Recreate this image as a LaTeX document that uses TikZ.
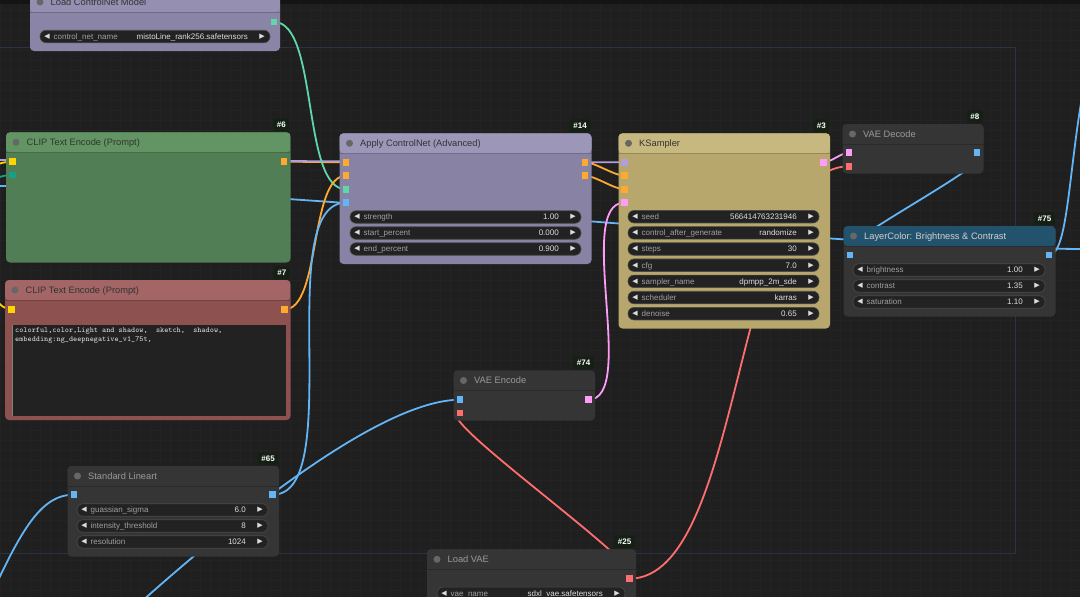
\documentclass[tikz,border=0pt]{standalone}
\usepackage{fontspec}
\setmainfont{Liberation Sans}
\newfontfamily\symf{DejaVu Sans}
\definecolor{bg}{HTML}{1F1F1F}
\definecolor{gridc}{HTML}{232323}
\definecolor{grp}{HTML}{2A3344}
\definecolor{topc}{HTML}{141414}
\definecolor{cmodel}{HTML}{B39DDB}
\definecolor{cclip}{HTML}{FFD500}
\definecolor{ccond}{HTML}{FFA931}
\definecolor{ccn}{HTML}{5FD7A8}
\definecolor{cimg}{HTML}{64B5F6}
\definecolor{clat}{HTML}{FF9CF9}
\definecolor{cvae}{HTML}{FF6E6E}
\definecolor{cteal}{HTML}{16A085}
\definecolor{lcnT}{HTML}{958FB2}
\definecolor{lcnB}{HTML}{8A84A7}
\definecolor{acnT}{HTML}{9C96B8}
\definecolor{acnB}{HTML}{8882A5}
\definecolor{c6T}{HTML}{629563}
\definecolor{c6B}{HTML}{517E54}
\definecolor{c7T}{HTML}{A36565}
\definecolor{c7B}{HTML}{8D5150}
\definecolor{ksT}{HTML}{C6B87E}
\definecolor{ksB}{HTML}{B7A76D}
\definecolor{darkT}{HTML}{353535}
\definecolor{darkB}{HTML}{353535}
\definecolor{lcT}{HTML}{23526D}
\definecolor{ttlDark}{HTML}{333333}
\definecolor{ttlGrey}{HTML}{9A9A9A}
\definecolor{ttlLight}{HTML}{D0D0D0}
\definecolor{dotc}{HTML}{676767}
\definecolor{badgebg}{HTML}{142014}
\definecolor{pillbg}{HTML}{222222}
\definecolor{pilledge}{HTML}{4A4A4A}
\definecolor{wlabc}{HTML}{A0A0A0}
\definecolor{wvalc}{HTML}{DDDDDD}
\definecolor{areabg}{HTML}{222222}
\tikzset{
 box/.style={rounded corners=4pt, inner sep=0pt, outer sep=0pt, draw=none},
 slotsq/.style={rectangle, minimum size=6.5pt, inner sep=0pt, draw=none},
 wire/.style={line width=1.8pt},
 ttl/.style={font=\fontsize{9.3}{10}\selectfont, inner sep=0pt, anchor=base west},
 badge/.style={fill=badgebg, text=white, font=\fontsize{8}{8}\selectfont\bfseries, rounded corners=1.5pt, inner xsep=3.5pt, inner ysep=0pt, minimum height=12.5pt, anchor=south east},
 pill/.style={fill=pillbg, draw=pilledge, line width=.6pt, rounded corners=6pt, minimum height=12.5pt, inner sep=0pt},
 wlab/.style={font=\fontsize{8}{9}\selectfont, text=wlabc, inner sep=0pt, anchor=base west},
 wval/.style={font=\fontsize{8}{9}\selectfont, text=wvalc, inner sep=0pt, anchor=base east},
 warr/.style={font=\symf\fontsize{7}{8}\selectfont, text=wvalc, inner sep=0pt},
}
\newcommand\cbox[9]{%
 \node[box, fill=#7, minimum width={#4-#2}, minimum height={#5-#3}, anchor=north west,
   path picture={\fill[#6] (path picture bounding box.north west) rectangle ([yshift=-20pt]path picture bounding box.north east);
   \draw[black, opacity=.2, line width=.8pt] ([yshift=-20pt]path picture bounding box.north west) -- ([yshift=-20pt]path picture bounding box.north east);}] (#1) at (#2,#3) {};
 \node[circle, fill=dotc, minimum size=7pt, inner sep=0pt] (#1-dot) at (#2+10,#3+10) {};
 \node[ttl, text=#9] (#1-title) at (#2+20.5,#3+13.4) {#8};
}
\newcommand\cbadge[4]{\node[badge] (#1) at (#2,#3) {\##4};}
\newcommand\wdg[6]{%
 \node[pill, minimum width={#3-#2}] (#1) at ({(#2+#3)/2},#4) {};
 \node[warr] (#1-a) at (#2+7,#4) {◀};
 \node[wlab] (#1-l) at (#2+13.5,#4+2.9) {#5};
 \node[wval] (#1-v) at (#3-22,#4+2.9) {#6};
 \node[warr] (#1-b) at (#3-8,#4) {▶};
}
\newcommand\putslot[2]{\node[slotsq, fill=#2] (#1-sq) at (#1) {};}
\begin{document}
\begin{tikzpicture}[x=1pt,y=-1pt]
\useasboundingbox (0,0) rectangle (1080,597);
% background and grid
\fill[bg] (0,0) rectangle (1080,597);
\foreach \i in {0,10,...,1080} \draw[gridc, line width=.5pt] (\i,0) -- (\i,597);
\foreach \j in {0,10,...,590} \draw[gridc, line width=.5pt] (0,\j) -- (1080,\j);
\fill[topc] (0,0) rectangle (1080,4);
% group frame
\draw[grp, line width=1pt] (-5,47) -- (1015,47) -- (1015,553) -- (-5,553);
% slot coordinates
\coordinate (lcn-out) at (274,22);
\coordinate (c6-clip) at (12.7,161.7);
\coordinate (c6-txt) at (12.7,175);
\coordinate (c6-out) at (284,161.7);
\coordinate (c7-clip) at (11.5,309.5);
\coordinate (c7-out) at (284.3,309.5);
\coordinate (acn-pos) at (346,162.3);
\coordinate (acn-neg) at (346,175.7);
\coordinate (acn-cn) at (346,189.3);
\coordinate (acn-img) at (346,202.7);
\coordinate (acn-o1) at (585,162.3);
\coordinate (acn-o2) at (585,175.7);
\coordinate (ks-model) at (624.3,162.3);
\coordinate (ks-pos) at (624.3,175.7);
\coordinate (ks-neg) at (624.3,189.3);
\coordinate (ks-lat) at (624.3,202.7);
\coordinate (ks-out) at (823.3,162.3);
\coordinate (vd-lat) at (849,152.7);
\coordinate (vd-vae) at (849,166.3);
\coordinate (vd-out) at (977,152.7);
\coordinate (lc-in) at (850,255);
\coordinate (lc-out) at (1049,255);
\coordinate (ve-px) at (460,399.7);
\coordinate (ve-vae) at (460,413);
\coordinate (ve-out) at (588.3,399.7);
\coordinate (la-in) at (74,494.7);
\coordinate (la-out) at (272.7,494.7);
\coordinate (lv-out) at (629.3,578.7);
% free ends off the picture
\coordinate (fe-model) at (-10,160);
\coordinate (fe-clipA) at (-60,205);
\coordinate (fe-txt) at (-60,222);
\coordinate (fe-clipB) at (-50,240);
\coordinate (fe-longL) at (-10,186);
\coordinate (fe-longR) at (1090,249);
\coordinate (fe-img1) at (-20,620);
\coordinate (fe-img2) at (110,630);
\coordinate (fe-out) at (1095,40);
% wires
\draw[wire, cclip] (fe-clipA) .. controls +(40,0) and +(-40,0) .. (c6-clip);
\draw[wire, cteal] (fe-txt) .. controls +(40,0) and +(-40,0) .. (c6-txt);
\draw[wire, cclip] (fe-clipB) .. controls +(25,0) and +(-25,0) .. (c7-clip);
\draw[wire, cimg] (fe-longL) .. controls +(275,0) and +(-275,0) .. (fe-longR);
\draw[wire, ccond] (c6-out) .. controls +(15,0) and +(-15,0) .. (acn-pos);
\draw[wire, cmodel] (fe-model) .. controls +(200,0) and +(-200,0) .. (ks-model);
\draw[wire, ccn] (lcn-out) .. controls +(45,0) and +(-45,0) .. (acn-cn);
\draw[wire, ccond] (c7-out) .. controls +(37,0) and +(-37,0) .. (acn-neg);
\draw[wire, cimg] (la-out) .. controls +(75,0) and +(-75,0) .. (acn-img);
\draw[wire, cimg] (fe-img2) .. controls (230,520) and (380,400) .. (ve-px);
\draw[wire, cimg] (fe-img1) .. controls (20,530) and (40,494.7) .. (la-in);
\draw[wire, ccond] (acn-o1) .. controls +(10,0) and +(-10,0) .. (ks-pos);
\draw[wire, ccond] (acn-o2) .. controls +(10,0) and +(-10,0) .. (ks-neg);
\draw[wire, clat] (ve-out) .. controls +(50,0) and +(-50,0) .. (ks-lat);
\draw[wire, clat] (ks-out) .. controls +(8,0) and +(-8,0) .. (vd-lat);
\draw[wire, cvae] (lv-out) .. controls +(116,0) and +(-116,0) .. (vd-vae);
\draw[wire, cvae] (lv-out) .. controls +(35,0) and +(-35,0) .. (ve-vae);
\draw[wire, cimg] (vd-out) .. controls +(40,0) and +(-40,0) .. (lc-in);
\draw[wire, cimg] (lc-out) .. controls (1072,255) and (1068,130) .. (fe-out);
% nodes
\cbox{lcn}{30}{-8}{280}{51}{lcnT}{lcnB}{Load ControlNet Model}{ttlDark}
\wdg{lcn-w}{40}{270}{36.5}{control\_net\_name}{mistoLine\_rank256.safetensors}

\cbox{c6}{6}{132.3}{290.5}{262.5}{c6T}{c6B}{CLIP Text Encode (Prompt)}{ttlDark}
\cbadge{c6-badge}{289.5}{131}{6}

\cbox{c7}{5}{280}{290.5}{420}{c7T}{c7B}{CLIP Text Encode (Prompt)}{ttlDark}
\cbadge{c7-badge}{290}{279}{7}
\fill[areabg] (12,325) rectangle (286,415.5);
\draw[gray, line width=1pt] (12.5,325) -- (12.5,415.5);
\node[anchor=north west, inner sep=0pt, align=left, text=wvalc, font=\ttfamily\fontsize{7.8}{9.4}\selectfont] (c7-text) at (15,327.5)
 {colorful,color,Light and shadow,\ \ sketch,\ \ shadow,\\embedding:ng\_deepnegative\_v1\_75t,};

\cbox{acn}{339.5}{133.3}{591.5}{264}{acnT}{acnB}{Apply ControlNet (Advanced)}{ttlDark}
\cbadge{acn-badge}{590.5}{132}{14}
\wdg{acn-w1}{350}{581}{217}{strength}{1.00}
\wdg{acn-w2}{350}{581}{233}{start\_percent}{0.000}
\wdg{acn-w3}{350}{581}{249}{end\_percent}{0.900}

\cbox{ks}{618.5}{133.3}{830}{328.5}{ksT}{ksB}{KSampler}{ttlDark}
\cbadge{ks-badge}{829.5}{132}{3}
\wdg{ks-w1}{628}{819}{216.7}{seed}{566414763231946}
\wdg{ks-w2}{628}{819}{232.9}{control\_after\_generate}{randomize}
\wdg{ks-w3}{628}{819}{249.0}{steps}{30}
\wdg{ks-w4}{628}{819}{265.2}{cfg}{7.0}
\wdg{ks-w5}{628}{819}{281.3}{sampler\_name}{dpmpp\_2m\_sde}
\wdg{ks-w6}{628}{819}{297.5}{scheduler}{karras}
\wdg{ks-w7}{628}{819}{313.7}{denoise}{0.65}

\cbox{vd}{842.5}{124}{983.5}{173.5}{darkT}{darkB}{VAE Decode}{ttlGrey}
\cbadge{vd-badge}{983}{122.7}{8}

\cbox{lc}{843.5}{226}{1055.5}{316.5}{lcT}{darkB}{LayerColor: Brightness \& Contrast}{ttlLight}
\cbadge{lc-badge}{1055}{225}{75}
\wdg{lc-w1}{853}{1045}{270}{brightness}{1.00}
\wdg{lc-w2}{853}{1045}{286}{contrast}{1.35}
\wdg{lc-w3}{853}{1045}{302}{saturation}{1.10}

\cbox{ve}{453.5}{370.5}{595}{420.5}{darkT}{darkB}{VAE Encode}{ttlGrey}
\cbadge{ve-badge}{594}{369.3}{74}

\cbox{la}{67.5}{466}{279}{556.5}{darkT}{darkB}{Standard Lineart}{ttlGrey}
\cbadge{la-badge}{278.5}{465}{65}
\wdg{la-w1}{77}{268}{510}{guassian\_sigma}{6.0}
\wdg{la-w2}{77}{268}{526}{intensity\_threshold}{8}
\wdg{la-w3}{77}{268}{542}{resolution}{1024}

\cbox{lv}{427}{549.3}{636}{625}{darkT}{darkB}{Load VAE}{ttlGrey}
\cbadge{lv-badge}{635}{548}{25}
\wdg{lv-w}{437}{625}{593.3}{vae\_name}{sdxl\_vae.safetensors}
% slots
\putslot{lcn-out}{ccn}
\putslot{c6-clip}{cclip}
\putslot{c6-txt}{cteal}
\putslot{c6-out}{ccond}
\putslot{c7-clip}{cclip}
\putslot{c7-out}{ccond}
\putslot{acn-pos}{ccond}
\putslot{acn-neg}{ccond}
\putslot{acn-cn}{ccn}
\putslot{acn-img}{cimg}
\putslot{acn-o1}{ccond}
\putslot{acn-o2}{ccond}
\putslot{ks-model}{cmodel}
\putslot{ks-pos}{ccond}
\putslot{ks-neg}{ccond}
\putslot{ks-lat}{clat}
\putslot{ks-out}{clat}
\putslot{vd-lat}{clat}
\putslot{vd-vae}{cvae}
\putslot{vd-out}{cimg}
\putslot{lc-in}{cimg}
\putslot{lc-out}{cimg}
\putslot{ve-px}{cimg}
\putslot{ve-vae}{cvae}
\putslot{ve-out}{clat}
\putslot{la-in}{cimg}
\putslot{la-out}{cimg}
\putslot{lv-out}{cvae}
\end{tikzpicture}
\end{document}
